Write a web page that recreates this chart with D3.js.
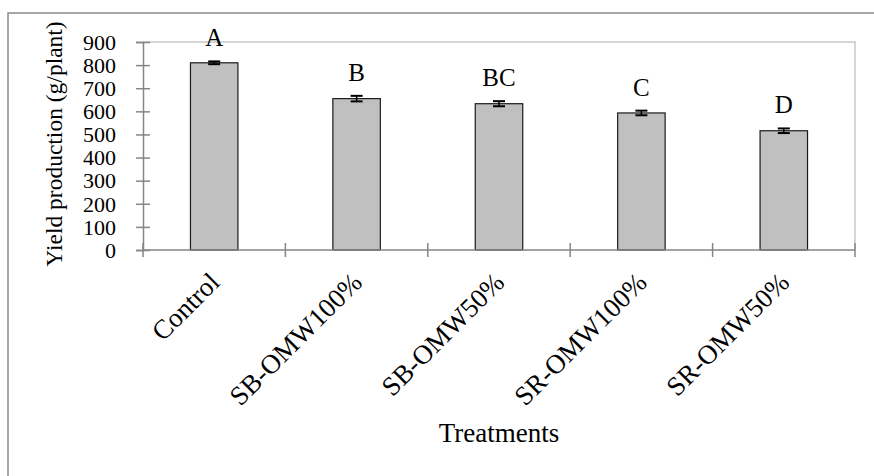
<!DOCTYPE html>
<html>
<head>
<meta charset="utf-8">
<script src="https://cdn.jsdelivr.net/npm/d3@7"></script>
<style>
  body { margin: 0; background: #fff; }
  text { font-family: "Liberation Serif", "Times New Roman", serif; fill: #000; }
</style>
</head>
<body>
<script>
var categories = ["Control", "SB-OMW100%", "SB-OMW50%", "SR-OMW100%", "SR-OMW50%"];
var yields = [810, 655, 633, 593, 516];
var errors = [6, 12, 11, 10, 10];
var letters = ["A", "B", "BC", "C", "D"];
var yTicks = [0, 100, 200, 300, 400, 500, 600, 700, 800, 900];

var data = categories.map((c, i) => ({name: c, value: yields[i], err: errors[i], letter: letters[i]}));

var W = 874, H = 476;
var margin = {top: 42, right: 19, bottom: 226, left: 143};
var width = W - margin.left - margin.right;
var height = H - margin.top - margin.bottom;

var svg = d3.select("body").append("svg")
    .attr("width", W)
    .attr("height", H);

// outer chart frame
svg.append("rect")
    .attr("x", 8).attr("y", 13)
    .attr("width", 900).attr("height", 500)
    .attr("fill", "none")
    .attr("stroke", "#8a8a8a")
    .attr("stroke-width", 1.5);

var g = svg.append("g")
    .attr("transform", "translate(" + margin.left + "," + margin.top + ")");

var x = d3.scaleBand()
    .domain(categories)
    .range([0, width])
    .paddingInner(2 / 3)
    .paddingOuter(1 / 3);

var y = d3.scaleLinear()
    .domain([0, 900])
    .range([height, 0]);

// plot area border (top and right)
g.append("path")
    .attr("d", "M0," + y(900) + "H" + width + "V" + height)
    .attr("fill", "none")
    .attr("stroke", "#c8c8c8")
    .attr("stroke-width", 1.5);

// bars
g.selectAll("rect.bar")
    .data(data)
    .enter().append("rect")
    .attr("class", "bar")
    .attr("x", d => x(d.name))
    .attr("y", d => y(d.value))
    .attr("width", x.bandwidth())
    .attr("height", d => height - y(d.value))
    .attr("fill", "#c0c0c0")
    .attr("stroke", "#1a1a1a")
    .attr("stroke-width", 1.2);

// error bars
var eb = g.selectAll("g.err")
    .data(data)
    .enter().append("g")
    .attr("class", "err")
    .attr("transform", d => "translate(" + (x(d.name) + x.bandwidth() / 2) + ",0)");
eb.append("line")
    .attr("y1", d => y(d.value - d.err))
    .attr("y2", d => y(d.value + d.err))
    .attr("stroke", "#000").attr("stroke-width", 1.5);
eb.selectAll("line.cap")
    .data(d => [d.value - d.err, d.value + d.err])
    .enter().append("line")
    .attr("class", "cap")
    .attr("x1", -6).attr("x2", 6)
    .attr("y1", v => y(v)).attr("y2", v => y(v))
    .attr("stroke", "#000").attr("stroke-width", 2);

// significance letters
g.selectAll("text.letter")
    .data(data)
    .enter().append("text")
    .attr("class", "letter")
    .attr("x", d => x(d.name) + x.bandwidth() / 2)
    .attr("y", d => y(d.value + d.err) - 15)
    .attr("text-anchor", "middle")
    .attr("font-size", "25px")
    .text(d => d.letter);

// y axis
var leftAxis = d3.axisLeft(y).tickValues(yTicks).tickSize(7).tickPadding(20);
var ya = g.append("g").attr("class", "left axis").call(leftAxis);
ya.select(".domain").attr("stroke", "#868686").attr("stroke-width", 1.5);
ya.selectAll(".tick line").attr("x1", 7).attr("x2", -7)
    .attr("stroke", "#868686").attr("stroke-width", 1.5);
ya.selectAll(".tick text")
    .attr("font-size", "22px")
    .attr("font-family", "Liberation Serif, serif")
    .attr("fill", "#000")
    .attr("dy", "0.33em");

// x axis with ticks on category boundaries
var xa = g.append("g").attr("class", "bottom axis")
    .attr("transform", "translate(0," + height + ")");
xa.append("line")
    .attr("x1", 0).attr("x2", width)
    .attr("stroke", "#868686").attr("stroke-width", 1.5);
xa.selectAll("line.tick")
    .data(d3.range(categories.length + 1))
    .enter().append("line")
    .attr("class", "tick")
    .attr("x1", i => i * x.step()).attr("x2", i => i * x.step())
    .attr("y1", -7).attr("y2", 7)
    .attr("stroke", "#868686").attr("stroke-width", 1.5);

// rotated category labels
xa.selectAll("text.cat")
    .data(categories)
    .enter().append("text")
    .attr("class", "cat")
    .attr("text-anchor", "end")
    .attr("font-size", "27px")
    .attr("transform", d => "translate(" + (x(d) + x.bandwidth() / 2 + 7) + "," + 34 + ") rotate(-45)")
    .text(d => d);

// axis titles
g.append("text")
    .attr("transform", "translate(" + (-81) + "," + (height / 2 - 2) + ") rotate(-90)")
    .attr("text-anchor", "middle")
    .attr("font-size", "23.5px")
    .text("Yield production (g/plant)");

g.append("text")
    .attr("x", width / 2)
    .attr("y", height + 192)
    .attr("text-anchor", "middle")
    .attr("font-size", "27px")
    .text("Treatments");
</script>
</body>
</html>
